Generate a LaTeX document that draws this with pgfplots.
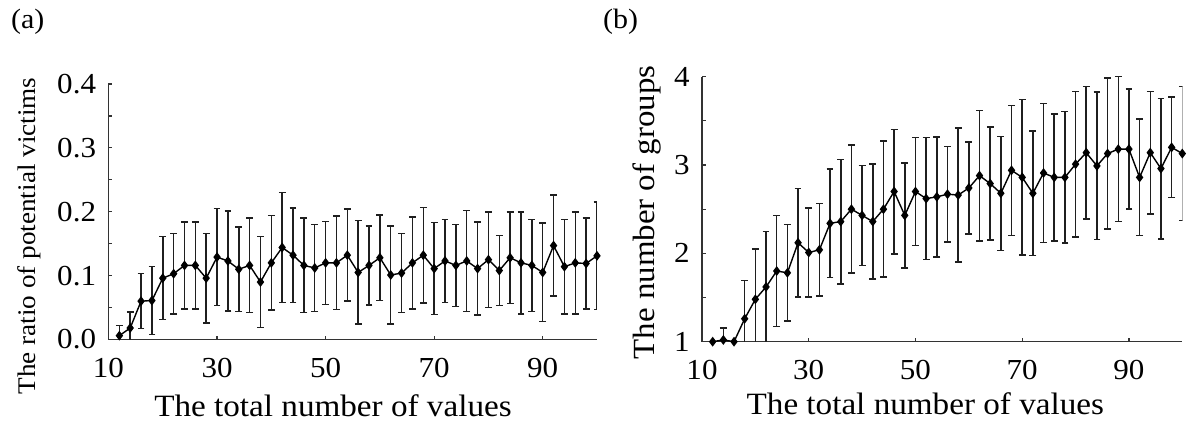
\documentclass[border=0pt]{standalone}
\usepackage{fontspec}
\setmainfont{Liberation Serif}[FakeStretch=1.07]
\usepackage{pgfplots}
\usepackage{pgfplotstable}
\pgfplotsset{compat=1.18}

% ratio of potential victims: x mean err
\pgfplotstableread{
x y e
12 0.006 0.016
14 0.018 0.025
16 0.060 0.043
18 0.061 0.053
20 0.096 0.065
22 0.103 0.063
24 0.116 0.068
26 0.116 0.068
28 0.096 0.070
30 0.129 0.076
32 0.123 0.078
34 0.110 0.066
36 0.116 0.074
38 0.090 0.071
40 0.120 0.074
42 0.144 0.086
44 0.132 0.074
46 0.116 0.074
48 0.112 0.068
50 0.120 0.065
52 0.120 0.073
54 0.132 0.072
56 0.105 0.081
58 0.116 0.062
60 0.128 0.067
62 0.101 0.077
64 0.104 0.062
66 0.120 0.072
68 0.132 0.075
70 0.111 0.072
72 0.123 0.065
74 0.116 0.064
76 0.123 0.079
78 0.111 0.073
80 0.125 0.075
82 0.108 0.055
84 0.128 0.072
86 0.120 0.080
88 0.116 0.072
90 0.105 0.077
92 0.147 0.079
94 0.114 0.074
96 0.120 0.080
98 0.119 0.071
100 0.131 0.084
}\ratiodata

% number of groups
\pgfplotstableread{
x y e
12 1.00 0
14 1.02 0.135
16 1.00 0
18 1.26 0.435
20 1.48 0.57
22 1.62 0.63
24 1.80 0.63
26 1.78 0.545
28 2.12 0.615
30 2.01 0.505
32 2.04 0.525
34 2.34 0.615
36 2.36 0.705
38 2.50 0.725
40 2.43 0.565
42 2.36 0.65
44 2.50 0.77
46 2.70 0.705
48 2.43 0.595
50 2.70 0.61
52 2.62 0.69
54 2.64 0.68
56 2.67 0.54
58 2.66 0.76
60 2.74 0.52
62 2.88 0.74
64 2.79 0.64
66 2.68 0.645
68 2.94 0.735
70 2.86 0.88
72 2.68 0.705
74 2.91 0.785
76 2.86 0.72
78 2.86 0.745
80 3.01 0.825
82 3.14 0.75
84 2.99 0.835
86 3.13 0.855
88 3.18 0.82
90 3.18 0.68
92 2.86 0.66
94 3.14 0.695
96 2.96 0.795
98 3.20 0.57
100 3.13 0.76
}\groupdata

\pgfplotsset{
  panel/.style={
    scale only axis,
    anchor=south west,
    axis lines*=left,
    axis line style={black!80, line width=0.65pt},
    tick align=inside,
    tick style={black!80, line width=0.6pt},
    major tick length=2pt,
    minor tick length=2pt,
    xmin=10, xmax=100,
    xtick={10,30,50,70,90},
    minor y tick num=1,
    tick label style={font=\fontsize{14.5}{16}\selectfont},
    /pgf/number format/assume math mode=true,
    xticklabel style={yshift=-5.7pt},
    yticklabel style={xshift=-2.7pt},
  },
  series/.style={
    black, line width=0.7pt,
    mark=diamond*, mark size=1.9pt,
    error bars/.cd, y dir=both, y explicit,
    error bar style={black!88, line width=0.75pt},
    error mark options={rotate=90, mark size=1.7pt, black!88, line width=0.75pt},
  },
}

\begin{document}
\begin{tikzpicture}
\path[use as bounding box] (0,0) rectangle (594.5pt,211.5pt);

\begin{axis}[panel,
  at={(54.25pt,41.75pt)},
  width=244.25pt, height=127.75pt,
  ymin=0, ymax=0.4,
  ytick={0,0.1,0.2,0.3,0.4},
  yticklabel style={/pgf/number format/.cd, fixed, fixed zerofill, precision=1},
  xlabel={The total number of values},
  ylabel={The ratio of potential victims},
  xlabel style={font=\fontsize{15.5}{17}\selectfont, at={(axis description cs:0.4596,-0.3033)}, anchor=base},
  ylabel style={font=\fontsize{12.7}{14}\selectfont, at={(axis description cs:-0.1617,0.405)}, anchor=center, rotate=0},
]
\addplot[series] table[x=x, y=y, y error=e] {\ratiodata};
\end{axis}

\begin{axis}[panel,
  at={(351pt,40.65pt)},
  width=240.15pt, height=132.5pt,
  ymin=1, ymax=4,
  ytick={1,2,3,4},
  xlabel={The total number of values},
  ylabel={The number of groups},
  xlabel style={font=\fontsize{15.5}{17}\selectfont, at={(axis description cs:0.465,-0.2766)}, anchor=base},
  ylabel style={font=\fontsize{15.4}{17}\selectfont, at={(axis description cs:-0.1151,0.4875)}, anchor=center, rotate=0},
]
\addplot[series] table[x=x, y=y, y error=e] {\groupdata};
\end{axis}

\node[font=\fontsize{14}{16}\selectfont] at (13.85pt,200.65pt) {(a)};
\node[font=\fontsize{14}{16}\selectfont] at (310.35pt,200.65pt) {(b)};
\end{tikzpicture}
\end{document}
